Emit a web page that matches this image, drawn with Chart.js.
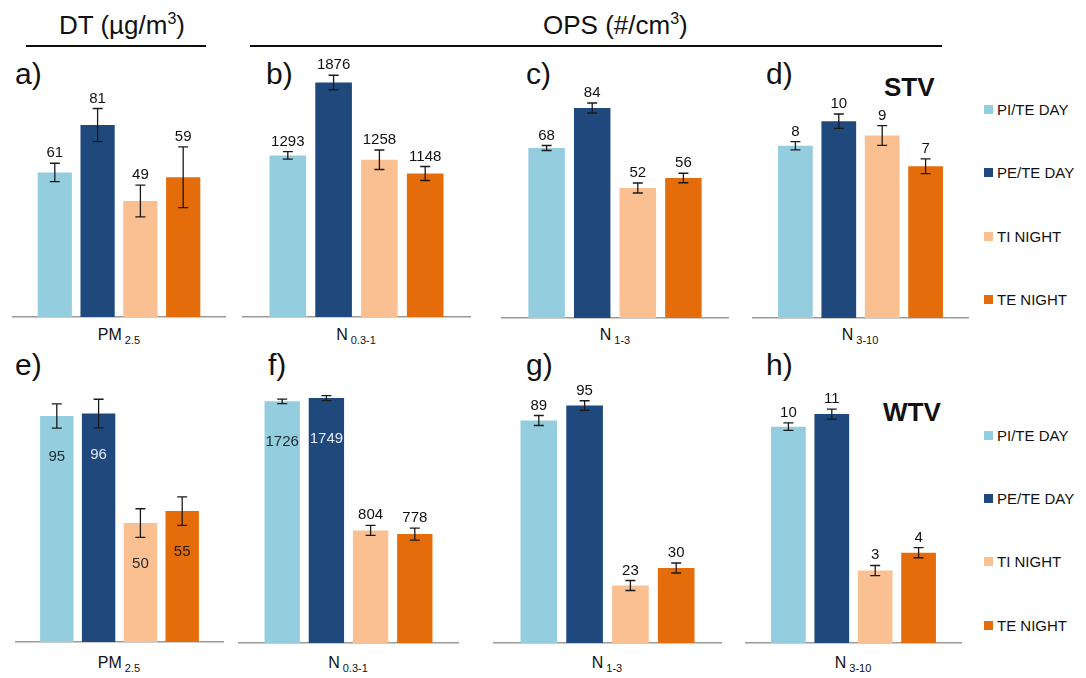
<!DOCTYPE html>
<html lang="en">

<head>
    <meta charset="UTF-8">
    <title>DT / OPS</title>
    <script src="https://cdn.jsdelivr.net/npm/chart.js@4.4.1/dist/chart.umd.min.js"></script>
    <style>
        body { margin: 0; background: #fff; font-family: "Liberation Sans", Arial, sans-serif; color: #111; }
        #page { position: relative; width: 1086px; height: 678px; overflow: hidden; }
        .abs { position: absolute; white-space: nowrap; line-height: 1; }
        .head { font-size: 26px; }
        .head sup { font-size: 16px; vertical-align: 10px; line-height: 0; }
        .rule { position: absolute; height: 2px; background: #111; }
        .letter { font-size: 30px; }
        .tag { font-size: 26px; font-weight: bold; }
        .cat { font-size: 16px; transform: translateX(-50%); }
        .cat sub { font-size: 11px; vertical-align: -4px; line-height: 0; margin-left: 3px; }
        .leg { font-size: 15px; }
        .leg i { display: inline-block; width: 9px; height: 9px; margin-right: 4px; vertical-align: 1px; }
        canvas { position: absolute; }
    </style>
</head>

<body>
    <div id="page">
        <div class="abs head" style="left:59px; top:12px">DT (µg/m<sup>3</sup>)</div>
        <div class="abs head" style="left:543px; top:12px">OPS (#/cm<sup>3</sup>)</div>
        <div class="rule" style="left:26px; width:180px; top:45px"></div>
        <div class="rule" style="left:250px; width:692px; top:45px"></div>

        <div class="abs letter" style="left:15px; top:59px">a)</div>
        <div class="abs letter" style="left:266px; top:59px">b)</div>
        <div class="abs letter" style="left:526px; top:59px">c)</div>
        <div class="abs letter" style="left:766px; top:59px">d)</div>
        <div class="abs letter" style="left:15px; top:350px">e)</div>
        <div class="abs letter" style="left:268px; top:350px">f)</div>
        <div class="abs letter" style="left:526px; top:350px">g)</div>
        <div class="abs letter" style="left:766px; top:350px">h)</div>

        <div class="abs tag" style="left:884px; top:74px">STV</div>
        <div class="abs tag" style="left:883px; top:399px">WTV</div>

        <div class="abs cat" style="left:119px; top:327px">PM<sub>2.5</sub></div>
        <div class="abs cat" style="left:356px; top:327px">N<sub>0.3-1</sub></div>
        <div class="abs cat" style="left:615px; top:327px">N<sub>1-3</sub></div>
        <div class="abs cat" style="left:860px; top:327px">N<sub>3-10</sub></div>
        <div class="abs cat" style="left:119px; top:655px">PM<sub>2.5</sub></div>
        <div class="abs cat" style="left:348px; top:655px">N<sub>0.3-1</sub></div>
        <div class="abs cat" style="left:607px; top:655px">N<sub>1-3</sub></div>
        <div class="abs cat" style="left:853px; top:655px">N<sub>3-10</sub></div>

        <div id="legTop"></div>
        <div id="legBottom"></div>
    </div>

    <script>
        // series and colours
        const series = ['PI/TE DAY', 'PE/TE DAY', 'TI NIGHT', 'TE NIGHT'];
        const colors = ['#94cddd', '#1f497d', '#fac092', '#e46c0a'];
        const insideText = ['#1e2a33', '#e4eaf2', '#2a2a2a', '#2a1a0a'];

        // STV (top row)
        const pm25Stv = [61, 81, 49, 59];
        const pm25StvErr = [3.9, 7.0, 6.7, 12.8];
        const n031Stv = [1293, 1876, 1258, 1148];
        const n031StvErr = [30, 58, 78, 56];
        const n13Stv = [68, 84, 52, 56];
        const n13StvErr = [1.0, 2.0, 2.0, 1.9];
        const n310Stv = [8.4, 9.6, 8.9, 7.4];
        const n310StvErr = [0.2, 0.35, 0.48, 0.36];
        const n310StvText = ['8', '10', '9', '7'];

        // WTV (bottom row)
        const pm25Wtv = [95, 96, 50, 55];
        const pm25WtvErr = [5.1, 6.0, 6.0, 6.0];
        const n031Wtv = [1726, 1749, 804, 778];
        const n031WtvErr = [16, 18, 36, 43];
        const n13Wtv = [89, 95, 23, 30];
        const n13WtvErr = [2.0, 1.9, 2.0, 2.0];
        const n310Wtv = [10.3, 10.9, 3.45, 4.3];
        const n310WtvErr = [0.18, 0.24, 0.24, 0.24];
        const n310WtvText = ['10', '11', '3', '4'];

        // error bars + value labels, drawn from the y scale
        const errorBars = {
            id: 'errorBars',
            afterDatasetsDraw(chart) {
                const ctx = chart.ctx;
                const y = chart.scales.y;
                ctx.save();
                chart.data.datasets.forEach(function (ds, i) {
                    const bar = chart.getDatasetMeta(i).data[0];
                    const v = ds.data[0];
                    const top = y.getPixelForValue(v + ds.err);
                    const bot = y.getPixelForValue(v - ds.err);
                    ctx.strokeStyle = '#1a1a1a';
                    ctx.lineWidth = 1.3;
                    ctx.beginPath();
                    ctx.moveTo(bar.x, top); ctx.lineTo(bar.x, bot);
                    ctx.moveTo(bar.x - 5, top); ctx.lineTo(bar.x + 5, top);
                    ctx.moveTo(bar.x - 5, bot); ctx.lineTo(bar.x + 5, bot);
                    ctx.stroke();

                    ctx.font = '15px "Liberation Sans", Arial, sans-serif';
                    ctx.textAlign = 'center';
                    ctx.textBaseline = 'alphabetic';
                    if (ds.inside) {
                        ctx.fillStyle = insideText[i];
                        ctx.fillText(ds.text, bar.x, bar.y + 45);
                    } else {
                        ctx.fillStyle = '#111';
                        ctx.fillText(ds.text, bar.x, top - 6);
                    }
                });
                ctx.restore();
            }
        };

        function makePanel(p) {
            const cv = document.createElement('canvas');
            cv.width = p.width;
            cv.height = p.base - p.top + 3;
            cv.style.left = p.left + 'px';
            cv.style.top = p.top + 'px';
            document.getElementById('page').appendChild(cv);

            const texts = p.texts || p.values.map(String);
            new Chart(cv.getContext('2d'), {
                type: 'bar',
                data: {
                    labels: [''],
                    datasets: series.map(function (name, i) {
                        return {
                            label: name,
                            data: [p.values[i]],
                            err: p.errors[i],
                            text: texts[i],
                            inside: p.inside ? p.inside[i] : false,
                            backgroundColor: colors[i],
                            borderWidth: 0,
                            categoryPercentage: 0.8,
                            barPercentage: 0.8
                        };
                    })
                },
                options: {
                    responsive: false,
                    animation: false,
                    layout: { padding: { top: 12, bottom: 3, left: 0, right: 0 } },
                    plugins: { legend: { display: false }, tooltip: { enabled: false } },
                    scales: {
                        x: {
                            grid: { display: false, drawTicks: false },
                            ticks: { display: false },
                            border: { display: true, color: '#9a9a9a', width: 1.5 }
                        },
                        y: { display: false, min: 0, max: p.max }
                    }
                },
                plugins: [errorBars]
            });
        }

        // top row: chart area 50..317
        makePanel({ left: 12, width: 214, top: 38, base: 317, max: 112.7, values: pm25Stv, errors: pm25StvErr });
        makePanel({ left: 242, width: 229, top: 38, base: 317, max: 2136, values: n031Stv, errors: n031StvErr });
        makePanel({ left: 501, width: 228, top: 38, base: 318, max: 107.2, values: n13Stv, errors: n13StvErr });
        makePanel({ left: 752, width: 217, top: 38, base: 318, max: 13.07, values: n310Stv, errors: n310StvErr, texts: n310StvText });

        // bottom row: chart area 375..643
        makePanel({ left: 15, width: 209, top: 363, base: 642, max: 112.2, values: pm25Wtv, errors: pm25WtvErr, inside: [true, true, true, true] });
        makePanel({ left: 238, width: 221, top: 363, base: 643, max: 1914, values: n031Wtv, errors: n031WtvErr, inside: [true, true, false, false] });
        makePanel({ left: 493, width: 229, top: 363, base: 643, max: 107.2, values: n13Wtv, errors: n13WtvErr });
        makePanel({ left: 745, width: 217, top: 363, base: 643, max: 12.76, values: n310Wtv, errors: n310WtvErr, texts: n310WtvText });

        // legends
        function makeLegend(id, ys) {
            const box = document.getElementById(id);
            series.forEach(function (name, i) {
                const d = document.createElement('div');
                d.className = 'abs leg';
                d.style.left = '984px';
                d.style.top = (ys[i] - 8) + 'px';
                d.innerHTML = '<i style="background:' + colors[i] + '"></i>' + name;
                box.appendChild(d);
            });
        }
        makeLegend('legTop', [110, 173, 237, 300]);
        makeLegend('legBottom', [436, 499, 562, 626]);
    </script>
</body>

</html>
